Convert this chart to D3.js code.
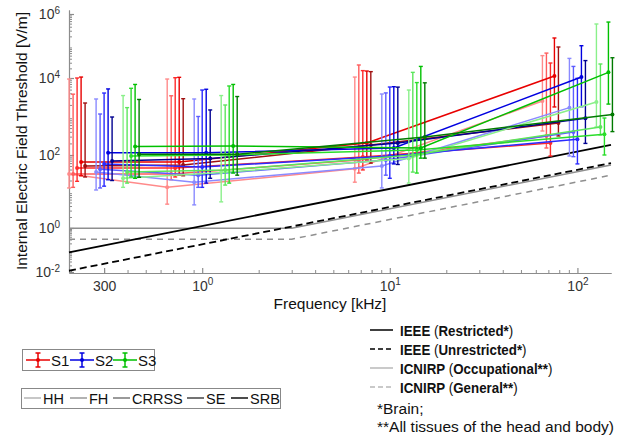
<!DOCTYPE html>
<html><head><meta charset="utf-8">
<script src="https://cdn.jsdelivr.net/npm/d3@7"></script>
<style>
body{margin:0;background:#fff}
text{font-family:"Liberation Sans",Arial,sans-serif}
</style>
</head><body>
<svg id="chart" width="627" height="435"></svg>
<script>
// ---------- data ----------
const frequencies = [0.3, 1, 10, 100];            // kHz
const subjects = ["S1", "S2", "S3"];
const models = ["HH", "FH", "CRRSS", "SE", "SRB"];
const xTickValues = [0.3, 1, 10, 100];
const xTickLabels = [["300", ""], ["10", "0"], ["10", "1"], ["10", "2"]];
const yTickValues = [1e-2, 1, 1e2, 1e4, 1e6];
const yTickLabels = [["10", "-2"], ["10", "0"], ["10", "2"], ["10", "4"], ["10", "6"]];

// rows = models (HH, FH, CRRSS, SE, SRB); columns = frequencies
const s1Mid = [[30, 13, 42, 2530], [30, 30, 73, 312], [44, 44, 88, 205], [64, 64, 205, 11500], [50, 53, 182, 680]];
const s1Low = [[12.5, 4.5, 18, 420], [13, 21, 32, 152], [19, 25, 39, 94], [27, 28, 73, 1770], [25, 27, 60, 312]];
const s1High = [[9400, 9400, 10700, 50000], [3800, 3450, 25500, 60000], [10000, 10200, 17000, 29400], [10700, 10500, 16500, 178000], [2240, 2900, 15800, 93000]];

const s2Mid = [[34, 18, 50, 1700], [41, 28, 73, 396], [57, 47, 94, 255], [115, 115, 152, 10700], [68, 80, 205, 900]];
const s2Low = [[11, 4.3, 12.5, 94], [12.5, 13, 28, 90], [14, 13, 23, 57], [21, 17, 57, 1800], [20, 23, 55, 200]];
const s2High = [[2850, 2850, 3840, 41000], [1160, 1000, 4100, 23000], [4070, 4870, 5830, 9800], [5200, 5100, 5950, 102000], [970, 1480, 5800, 35000]];

const s3Mid = [[23, 33, 80, 2380], [34, 39, 100, 533], [94, 100, 135, 345], [166, 171, 152, 15000], [104, 104, 294, 1130]];
const s3Low = [[13, 5.2, 17, 533], [17, 15, 34, 331], [25, 17, 32, 100], [23, 32, 82, 2100], [24.5, 28, 82, 405]];
const s3High = [[3500, 3500, 4870, 487000], [1700, 1990, 15000, 27400], [5400, 6200, 7600, 914], [6800, 6800, 23000, 560000], [2770, 3300, 7500, 43000]];

// guideline limits (frequency kHz, internal E-field V/m)
const ieeeFreq = [0.195, 151];
const ieeeRestricted = [0.078, 182];
const ieeeUnrestricted = [0.0114, 60];
const icnirpFreq = [0.195, 3, 151];
const icnirpOccupational = [0.97, 0.97, 53];
const icnirpGeneral = [0.31, 0.31, 28];

// ---------- styling ----------
const subjectColors = [
  ["#ff8a8a", "#ff5c5c", "#ff2a2a", "#e80000", "#a01010"],
  ["#8a8aff", "#5c5cff", "#2a2aff", "#0000e0", "#000090"],
  ["#8af08a", "#5ce65c", "#2add2a", "#00c000", "#007a00"]
];
const modelGrays = ["#b4b4b4", "#989898", "#787878", "#444444", "#111111"];

const svg = d3.select("#chart");
const x = d3.scaleLog().domain([0.195, 151]).range([69, 611]);
const y = d3.scaleLog().domain([1e-2, 1, 1e2, 1e4, 1e6, 1.33e6]).range([272, 228, 155, 78, 14, 10]);

const axisColor = "#8c8c8c";

// minor ticks
const xMinor = [];
for (let k = -1; k <= 2; k++) for (let m = 2; m <= 9; m++) { const v = m * Math.pow(10, k); if (v >= 0.195 && v <= 151 && v !== 0.3) xMinor.push(v); }
const yMinor = [];
for (let k = -2; k <= 5; k++) for (let m = 2; m <= 9; m++) yMinor.push(m * Math.pow(10, k));

const gx = svg.append("g").attr("transform", "translate(0,273)");
gx.call(d3.axisBottom(x).tickValues(xMinor).tickSize(-3).tickSizeOuter(0).tickFormat(""));
gx.selectAll("path, line").attr("stroke", axisColor);
const gx2 = svg.append("g").attr("transform", "translate(0,273)");
gx2.call(d3.axisBottom(x).tickValues(xTickValues).tickSize(-5).tickSizeOuter(0).tickPadding(8).tickFormat(""));
gx2.selectAll("path, line").attr("stroke", axisColor).attr("stroke-width", 1.2);
gx2.selectAll(".tick text").each(function(d, i) {
  const t = d3.select(this).attr("font-size", 14).attr("fill", "#333");
  t.append("tspan").text(xTickLabels[i][0]);
  if (xTickLabels[i][1]) t.append("tspan").attr("font-size", 10).attr("dy", "-0.55em").text(xTickLabels[i][1]);
});

const gy = svg.append("g").attr("transform", "translate(69,0)");
gy.call(d3.axisLeft(y).tickValues(yMinor).tickSize(-3).tickSizeOuter(0).tickFormat(""));
gy.selectAll("path, line").attr("stroke", axisColor);
const gy2 = svg.append("g").attr("transform", "translate(69,0)");
gy2.call(d3.axisLeft(y).tickValues(yTickValues).tickSize(-5).tickSizeOuter(0).tickPadding(9).tickFormat(""));
gy2.selectAll("path, line").attr("stroke", axisColor).attr("stroke-width", 1.2);
gy2.selectAll(".tick text").each(function(d, i) {
  const t = d3.select(this).attr("font-size", 14).attr("fill", "#333").attr("dy", "0.35em");
  t.append("tspan").text(yTickLabels[i][0]);
  t.append("tspan").attr("font-size", 10).attr("dy", "-0.55em").text(yTickLabels[i][1]);
});

// axis titles
svg.append("text").attr("x", 330).attr("y", 309).attr("text-anchor", "middle")
  .attr("font-size", 15.5).attr("fill", "#111").text("Frequency [kHz]");
svg.append("text").attr("transform", "translate(27,141) rotate(-90)").attr("text-anchor", "middle")
  .attr("font-size", 15.5).attr("fill", "#111").text("Internal Electric Field Threshold [V/m]");

// guideline curves
const line = d3.line().x(d => x(d[0])).y(d => y(d[1]));
const plot = svg.append("g");
plot.append("path").attr("d", line(icnirpFreq.map((f, i) => [f, icnirpGeneral[i]])))
  .attr("fill", "none").attr("stroke", "#8f8f8f").attr("stroke-width", 1.5).attr("stroke-dasharray", "6,5");
plot.append("path").attr("d", line(icnirpFreq.map((f, i) => [f, icnirpOccupational[i]])))
  .attr("fill", "none").attr("stroke", "#8f8f8f").attr("stroke-width", 1.5);
plot.append("path").attr("d", line(ieeeFreq.map((f, i) => [f, ieeeUnrestricted[i]])))
  .attr("fill", "none").attr("stroke", "#000").attr("stroke-width", 1.8).attr("stroke-dasharray", "7,4");
plot.append("path").attr("d", line(ieeeFreq.map((f, i) => [f, ieeeRestricted[i]])))
  .attr("fill", "none").attr("stroke", "#000").attr("stroke-width", 1.8);

// data series
const mids = [s1Mid, s2Mid, s3Mid], lows = [s1Low, s2Low, s3Low], highs = [s1High, s2High, s3High];
const subjOffset = 27, modelOffset = 4;
subjects.forEach((s, si) => {
  models.forEach((m, mi) => {
    const col = subjectColors[si][mi];
    const px = fi => x(frequencies[fi]) + (si - 1) * subjOffset + (mi - 2) * modelOffset;
    const pts = frequencies.map((f, fi) => ({ x: px(fi), mid: mids[si][mi][fi], lo: lows[si][mi][fi], hi: highs[si][mi][fi] }));
    const g = plot.append("g");
    g.append("path").attr("d", d3.line().x(d => d.x).y(d => y(d.mid))(pts))
      .attr("fill", "none").attr("stroke", col).attr("stroke-width", 1.5);
    pts.forEach(p => {
      g.append("line").attr("x1", p.x).attr("x2", p.x).attr("y1", y(p.lo)).attr("y2", y(p.hi)).attr("stroke", col).attr("stroke-width", 1.4);
      [p.lo, p.hi].forEach(v => g.append("line").attr("x1", p.x - 2).attr("x2", p.x + 2).attr("y1", y(v)).attr("y2", y(v)).attr("stroke", col).attr("stroke-width", 1.4));
      g.append("circle").attr("cx", p.x).attr("cy", y(p.mid)).attr("r", 2).attr("fill", col);
    });
  });
});

// legend 1: subjects
const lg1 = svg.append("g");
lg1.append("rect").attr("x", 22.5).attr("y", 349.5).attr("width", 132).attr("height", 21).attr("fill", "#fff").attr("stroke", "#888");
const subjLegendX = [26, 70, 113];
subjects.forEach((s, si) => {
  const col = subjectColors[si][3];
  const x0 = subjLegendX[si], cx = x0 + 12, cy = 360;
  lg1.append("line").attr("x1", x0).attr("x2", x0 + 24).attr("y1", cy).attr("y2", cy).attr("stroke", col).attr("stroke-width", 1.5);
  lg1.append("line").attr("x1", cx).attr("x2", cx).attr("y1", cy - 7).attr("y2", cy + 7).attr("stroke", col).attr("stroke-width", 1.5);
  [cy - 7, cy + 7].forEach(v => lg1.append("line").attr("x1", cx - 2.5).attr("x2", cx + 2.5).attr("y1", v).attr("y2", v).attr("stroke", col).attr("stroke-width", 1.5));
  lg1.append("circle").attr("cx", cx).attr("cy", cy).attr("r", 2).attr("fill", col);
  lg1.append("text").attr("x", x0 + 25).attr("y", cy + 5.5).attr("font-size", 15).attr("fill", "#111").text(s);
});

// legend 2: models
const lg2 = svg.append("g");
lg2.append("rect").attr("x", 21.5).attr("y", 388.5).attr("width", 259).attr("height", 20).attr("fill", "#fff").attr("stroke", "#888");
const modelLegendX = [24, 70, 113, 187, 231];
models.forEach((m, mi) => {
  const x0 = modelLegendX[mi], cy = 398;
  lg2.append("line").attr("x1", x0).attr("x2", x0 + 17).attr("y1", cy).attr("y2", cy).attr("stroke", modelGrays[mi]).attr("stroke-width", 1.5);
  lg2.append("text").attr("x", x0 + 19).attr("y", cy + 5.5).attr("font-size", 14.5).attr("fill", "#111").text(m);
});

// legend 3: guidelines
const lg3 = svg.append("g");
const guideLegend = [
  { bold1: "IEEE", mid: " (", bold2: "Restricted*", end: ")", stroke: "#000", dash: null },
  { bold1: "IEEE", mid: " (", bold2: "Unrestricted*", end: ")", stroke: "#000", dash: "5,3" },
  { bold1: "ICNIRP", mid: " (", bold2: "Occupational**", end: ")", stroke: "#b8b8b8", dash: null },
  { bold1: "ICNIRP", mid: " (", bold2: "General**", end: ")", stroke: "#b8b8b8", dash: "5,3" }
];
guideLegend.forEach((d, i) => {
  const cy = 330 + i * 19;
  lg3.append("line").attr("x1", 370).attr("x2", 393).attr("y1", cy).attr("y2", cy).attr("stroke", d.stroke).attr("stroke-width", 1.5)
    .attr("stroke-dasharray", d.dash);
  const t = lg3.append("text").attr("transform", `translate(400,${cy + 5.5}) scale(0.86,1)`).attr("font-size", 15.5).attr("fill", "#111");
  t.append("tspan").attr("font-weight", "bold").text(d.bold1);
  t.append("tspan").text(d.mid);
  t.append("tspan").attr("font-weight", "bold").text(d.bold2);
  t.append("tspan").text(d.end);
});
lg3.append("text").attr("x", 377).attr("y", 414).attr("font-size", 15.5).attr("fill", "#111").text("*Brain;");
lg3.append("text").attr("x", 377).attr("y", 432).attr("font-size", 15.5).attr("fill", "#111").text("**All tissues of the head and body)");
</script>
</body></html>
